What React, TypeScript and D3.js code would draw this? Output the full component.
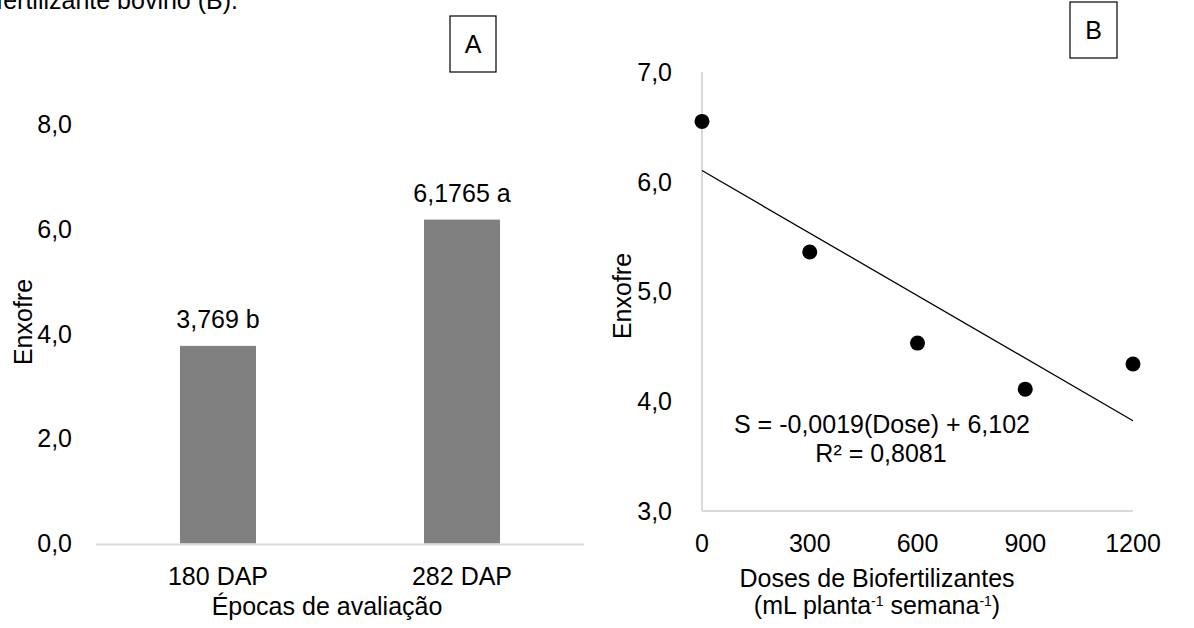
import React, { useEffect, useRef } from 'react';
import * as d3 from 'd3';

// Painel A - epocas
const epocas = ['180 DAP', '282 DAP'];
const enxofreEpoca = [3.769, 6.1765];
const rotulosBarra = ['3,769 b', '6,1765 a'];
const ticksA = [0, 2, 4, 6, 8];

// Painel B - doses
const doses = [0, 300, 600, 900, 1200];
const enxofreDose = [6.55, 5.36, 4.53, 4.11, 4.34];
const ticksBy = [3, 4, 5, 6, 7];
const regCoef = [-0.0019, 6.102]; // inclinacao, intercepto

const FONT = '"Liberation Sans", Arial, sans-serif';
const fmt = (v: number) => v.toFixed(1).replace('.', ',');

export default function App() {
  const ref = useRef<SVGSVGElement>(null);

  useEffect(() => {
    const svg = d3.select(ref.current);
    svg.selectAll('*').remove();
    svg.style('font-family', FONT).style('font-size', '25px');

    // texto cortado no topo
    svg.append('text').attr('x', 238).attr('y', 9).attr('text-anchor', 'end')
      .text('biofertilizante bovino (B).');

    // ---------- A ----------
    const xA = d3.scaleBand().domain(epocas).range([96, 584]);
    const yA = d3.scaleLinear().domain([0, 8]).range([543.5, 124]);
    const bw = 76;

    const gA = svg.append('g');
    gA.selectAll('.tick').data(ticksA).join('text')
      .attr('x', 72).attr('y', d => yA(d)).attr('dy', '0.35em')
      .attr('text-anchor', 'end').text(d => fmt(d));

    gA.selectAll('.bar').data(enxofreEpoca).join('rect')
      .attr('x', (d, i) => xA(epocas[i])! + xA.bandwidth() / 2 - bw / 2)
      .attr('width', bw)
      .attr('y', d => yA(d)).attr('height', d => yA(0) - yA(d))
      .attr('fill', '#808080');

    gA.selectAll('.lbl').data(enxofreEpoca).join('text')
      .attr('x', (d, i) => xA(epocas[i])! + xA.bandwidth() / 2)
      .attr('y', d => yA(d) - 18).attr('text-anchor', 'middle')
      .text((d, i) => rotulosBarra[i]);

    gA.append('line').attr('x1', 96).attr('x2', 584)
      .attr('y1', yA(0) + 1).attr('y2', yA(0) + 1)
      .attr('stroke', '#d9d9d9').attr('stroke-width', 2);

    gA.selectAll('.cat').data(epocas).join('text')
      .attr('x', d => xA(d)! + xA.bandwidth() / 2).attr('y', 585)
      .attr('text-anchor', 'middle').text(d => d);

    gA.append('text').attr('x', 327).attr('y', 615).attr('text-anchor', 'middle')
      .text('Épocas de avaliação');
    gA.append('text').attr('transform', 'translate(32,322) rotate(-90)')
      .attr('text-anchor', 'middle').text('Enxofre');

    gA.append('rect').attr('x', 450).attr('y', 16).attr('width', 46).attr('height', 56)
      .attr('fill', 'none').attr('stroke', '#000').attr('stroke-width', 1.2);
    gA.append('text').attr('x', 473).attr('y', 44).attr('dy', '0.35em')
      .attr('text-anchor', 'middle').text('A');

    // ---------- B ----------
    const xB = d3.scaleLinear().domain([0, 1200]).range([702, 1133]);
    const yB = d3.scaleLinear().domain([3, 7]).range([511, 72]);
    const gB = svg.append('g');

    gB.append('line').attr('x1', xB(0)).attr('x2', xB(0)).attr('y1', yB(7)).attr('y2', yB(3))
      .attr('stroke', '#d9d9d9').attr('stroke-width', 2);
    gB.append('line').attr('x1', xB(0)).attr('x2', xB(1200)).attr('y1', yB(3)).attr('y2', yB(3))
      .attr('stroke', '#d9d9d9').attr('stroke-width', 2);

    gB.selectAll('.ty').data(ticksBy).join('text')
      .attr('x', 672).attr('y', d => yB(d)).attr('dy', '0.35em')
      .attr('text-anchor', 'end').text(d => fmt(d));
    gB.selectAll('.tx').data(doses).join('text')
      .attr('x', d => xB(d)).attr('y', 552).attr('text-anchor', 'middle')
      .text(d => String(d));

    const reg = (x: number) => regCoef[0] * x + regCoef[1];
    const linha = d3.line<number>().x(d => xB(d)).y(d => yB(reg(d)));
    gB.append('path').datum([0, 1200]).attr('d', linha)
      .attr('stroke', '#000').attr('stroke-width', 1.3).attr('fill', 'none');

    gB.selectAll('.pt').data(doses).join('circle')
      .attr('cx', d => xB(d)).attr('cy', (d, i) => yB(enxofreDose[i]))
      .attr('r', 7.5).attr('fill', '#000');

    gB.append('text').attr('x', 882).attr('y', 433).attr('text-anchor', 'middle')
      .text('S = -0,0019(Dose) + 6,102');
    gB.append('text').attr('x', 881).attr('y', 462).attr('text-anchor', 'middle')
      .text('R² = 0,8081');

    gB.append('text').attr('x', 877).attr('y', 587).attr('text-anchor', 'middle')
      .text('Doses de Biofertilizantes');
    const t2 = gB.append('text').attr('x', 877).attr('y', 614).attr('text-anchor', 'middle');
    t2.append('tspan').text('(mL planta');
    t2.append('tspan').attr('dy', -8).style('font-size', '14px').text('-1');
    t2.append('tspan').attr('dy', 8).text(' semana');
    t2.append('tspan').attr('dy', -8).style('font-size', '14px').text('-1');
    t2.append('tspan').attr('dy', 8).text(')');

    gB.append('text').attr('transform', 'translate(631,296) rotate(-90)')
      .attr('text-anchor', 'middle').text('Enxofre');

    gB.append('rect').attr('x', 1070).attr('y', 2).attr('width', 47).attr('height', 56)
      .attr('fill', 'none').attr('stroke', '#000').attr('stroke-width', 1.2);
    gB.append('text').attr('x', 1093.5).attr('y', 30).attr('dy', '0.35em')
      .attr('text-anchor', 'middle').text('B');
  }, []);

  return (
    <svg ref={ref} width={1194} height={628}
      style={{ position: 'absolute', left: 0, top: 0, background: '#fff' }} />
  );
}
